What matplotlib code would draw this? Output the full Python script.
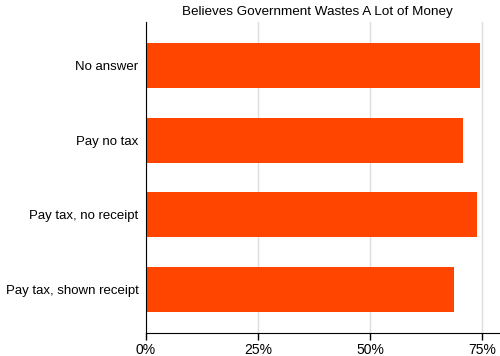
import matplotlib
matplotlib.use('Agg')
from matplotlib import pyplot as plt
from matplotlib.ticker import FuncFormatter

plt.rcParams['font.family'] = ['Liberation Sans', 'DejaVu Sans']

# 数据
categories = ['No answer', 'Pay no tax', 'Pay tax, no receipt',
              'Pay tax, shown receipt']
values = [74.5, 70.7, 73.8, 68.7]
ticks = [0, 25, 50, 75]

fig = plt.figure(figsize=(5, 3.56), dpi=100)
ax = fig.add_axes([0.291, 0.0646, 0.709, 0.8736])

ypos = list(range(len(categories)))[::-1]
ax.barh(ypos, values, height=0.6, color='#FF4500', zorder=2)

ax.set_xlim(0, 78.95)
ax.set_ylim(-0.58, 3.58)
ax.set_xticks(ticks)
ax.xaxis.set_major_formatter(FuncFormatter(lambda v, p: f'{v:.0f}%'))
ax.set_yticks(ypos)
ax.set_yticklabels(categories)

ax.grid(axis='x', color='#dddddd', linewidth=1, zorder=0)
for s in ['top', 'right']:
    ax.spines[s].set_visible(False)
ax.spines['left'].set_color('black')
ax.spines['bottom'].set_color('black')
ax.tick_params(axis='y', length=0, pad=5, labelsize=9.5)
ax.tick_params(axis='x', length=5, width=1, direction='out', pad=2,
               labelsize=10, color='black')

fig.text(317 / 500, 1 - 12 / 356, 'Believes Government Wastes A Lot of Money',
         ha='center', va='center', fontsize=9.7)

fig.savefig('out.png', dpi=100, facecolor='white')
